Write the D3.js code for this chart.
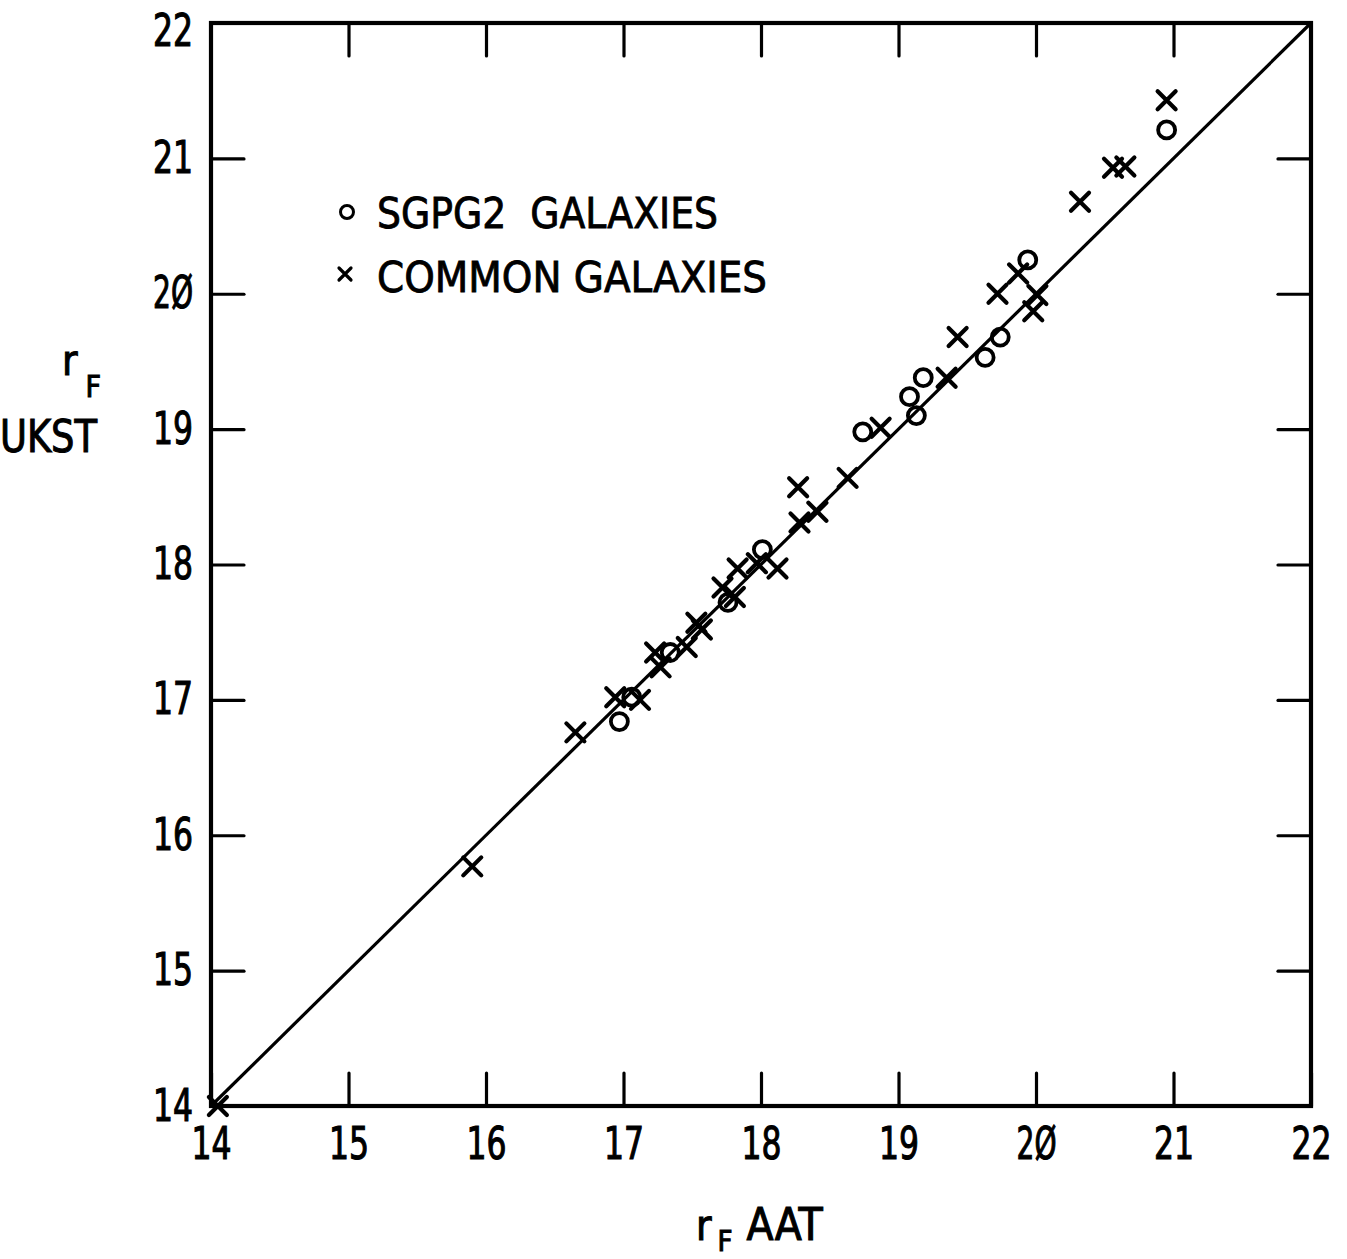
<!DOCTYPE html>
<html>
<head>
<meta charset="utf-8">
<script src="https://cdn.jsdelivr.net/npm/d3@7"></script>
<style>
  html, body { margin: 0; padding: 0; background: #fff; }
  svg { display: block; }
  text { font-family: "Liberation Sans Narrow", "DejaVu Sans Condensed", "DejaVu Sans", sans-serif; fill: #000; white-space: pre; }
</style>
</head>
<body>
<svg id="chart" width="1347" height="1259"></svg>
<script>
// r_F magnitudes: AAT (x) versus UKST (y)
const sgpg2AAT  = [16.97, 17.06, 17.34, 17.76, 18.01, 18.74, 19.08, 19.13, 19.18, 19.63, 19.74, 19.94, 20.95];
const sgpg2UKST = [16.84, 17.02, 17.35, 17.72, 18.11, 18.98, 19.24, 19.10, 19.38, 19.53, 19.68, 20.25, 21.21];

const commonAAT  = [14.05, 15.90, 16.65, 16.94, 17.12, 17.23, 17.27, 17.46, 17.53, 17.57, 17.72, 17.83, 17.81, 17.97, 18.12,
                    18.28, 18.27, 18.41, 18.63, 18.87, 19.35, 19.43, 19.72, 19.87, 20.01, 19.98, 20.32, 20.56, 20.65, 20.95];
const commonUKST = [14.00, 15.77, 16.76, 17.02, 17.00, 17.35, 17.24, 17.39, 17.57, 17.52, 17.83, 17.97, 17.76, 18.01, 17.97,
                    18.31, 18.57, 18.39, 18.64, 19.01, 19.38, 19.68, 20.00, 20.15, 19.99, 19.87, 20.68, 20.93, 20.94, 21.43];

// one-to-one reference line
const equalityLine = [14, 22];

const tickValues = [14, 15, 16, 17, 18, 19, 20, 21, 22];
const tickLabels = ["14", "15", "16", "17", "18", "19", "2Ø", "21", "22"];

const legendLabels = ["SGPG2  GALAXIES", "COMMON GALAXIES"];

const svg = d3.select("#chart");
const frame = { left: 211, right: 1311, top: 23, bottom: 1106 };

const x = d3.scaleLinear().domain([14, 22]).range([frame.left, frame.right]);
const y = d3.scaleLinear().domain([14, 22]).range([frame.bottom, frame.top]);

const labelOf = v => tickLabels[tickValues.indexOf(v)];
const TICK = 33;

function styleAxis(g, withText) {
  g.select(".domain").remove();
  g.selectAll(".tick line").attr("stroke", "#000").attr("stroke-width", 3.2).attr("stroke-linecap", "round");
  if (withText) {
    g.selectAll(".tick text").attr("font-size", 44).attr("fill", "#000")
      .attr("stroke", "#000").attr("stroke-width", 1.1)
      .attr("textLength", 40).attr("lengthAdjust", "spacingAndGlyphs");
  } else {
    g.selectAll(".tick text").remove();
  }
}

svg.append("g").attr("transform", `translate(0,${frame.bottom})`)
  .call(d3.axisBottom(x).tickValues(tickValues).tickFormat(labelOf).tickSize(-TICK).tickSizeOuter(0).tickPadding(22))
  .call(g => styleAxis(g, true));

svg.append("g").attr("transform", `translate(${frame.left},0)`)
  .call(d3.axisLeft(y).tickValues(tickValues).tickFormat(labelOf).tickSize(-TICK).tickSizeOuter(0).tickPadding(18))
  .call(g => styleAxis(g, true))
  // keep the topmost label inside the page
  .call(g => g.selectAll(".tick").filter(d => d === 22).select("text").attr("y", 8));

svg.append("g").attr("transform", `translate(0,${frame.top})`)
  .call(d3.axisTop(x).tickValues(tickValues.slice(1, -1)).tickSize(-TICK).tickSizeOuter(0))
  .call(g => styleAxis(g, false));

svg.append("g").attr("transform", `translate(${frame.right},0)`)
  .call(d3.axisRight(y).tickValues(tickValues.slice(1, -1)).tickSize(-TICK).tickSizeOuter(0))
  .call(g => styleAxis(g, false));

// plot frame
svg.append("rect")
  .attr("x", frame.left).attr("y", frame.top)
  .attr("width", frame.right - frame.left).attr("height", frame.bottom - frame.top)
  .attr("fill", "none").attr("stroke", "#000").attr("stroke-width", 4.2);

// y = x line
svg.append("path")
  .datum(equalityLine)
  .attr("d", d3.line().x(d => x(d)).y(d => y(d)))
  .attr("stroke", "#000").attr("stroke-width", 3.2).attr("fill", "none");

// SGPG2 galaxies: open circles
svg.append("g").selectAll("circle")
  .data(d3.zip(sgpg2AAT, sgpg2UKST))
  .join("circle")
  .attr("cx", d => x(d[0])).attr("cy", d => y(d[1]))
  .attr("r", 8.5)
  .attr("fill", "none").attr("stroke", "#000").attr("stroke-width", 3.8);

// common galaxies: crosses
const crossPath = s => `M${-s},${-s}L${s},${s}M${-s},${s}L${s},${-s}`;
svg.append("g").selectAll("path")
  .data(d3.zip(commonAAT, commonUKST))
  .join("path")
  .attr("transform", d => `translate(${x(d[0])},${y(d[1])})`)
  .attr("d", crossPath(9))
  .attr("fill", "none").attr("stroke", "#000").attr("stroke-width", 4.2).attr("stroke-linecap", "round");

// legend
const legend = svg.append("g");
legend.append("circle").attr("cx", 347).attr("cy", 212).attr("r", 6.5)
  .attr("fill", "none").attr("stroke", "#000").attr("stroke-width", 3);
legend.append("path").attr("transform", "translate(345,274)").attr("d", crossPath(6))
  .attr("fill", "none").attr("stroke", "#000").attr("stroke-width", 3.2).attr("stroke-linecap", "round");
legend.selectAll("text.leg")
  .data(legendLabels)
  .join("text").attr("class", "leg")
  .attr("x", 377).attr("y", (d, i) => 228 + i * 64)
  .attr("font-size", 42)
  .attr("stroke", "#000").attr("stroke-width", 0.8)
  .attr("textLength", (d, i) => i === 0 ? 341 : 390)
  .attr("lengthAdjust", "spacingAndGlyphs")
  .text(d => d);

// axis titles
const yTitle = svg.append("text").attr("x", 62).attr("y", 375).attr("font-size", 42)
  .attr("stroke", "#000").attr("stroke-width", 1);
yTitle.append("tspan").text("r");
yTitle.append("tspan").attr("dx", 8).attr("dy", 22).attr("font-size", 30).text("F");
svg.append("text").attr("x", 0).attr("y", 452).attr("font-size", 44)
  .attr("stroke", "#000").attr("stroke-width", 1)
  .attr("textLength", 97).attr("lengthAdjust", "spacingAndGlyphs").text("UKST");

const xTitle = svg.append("text").attr("x", 696).attr("y", 1240).attr("font-size", 42)
  .attr("stroke", "#000").attr("stroke-width", 1);
xTitle.append("tspan").text("r");
xTitle.append("tspan").attr("dx", 6).attr("dy", 11).attr("font-size", 29).text("F");
xTitle.append("tspan").attr("dx", 14).attr("dy", -11).attr("font-size", 44).text("AAT");
</script>
</body>
</html>
